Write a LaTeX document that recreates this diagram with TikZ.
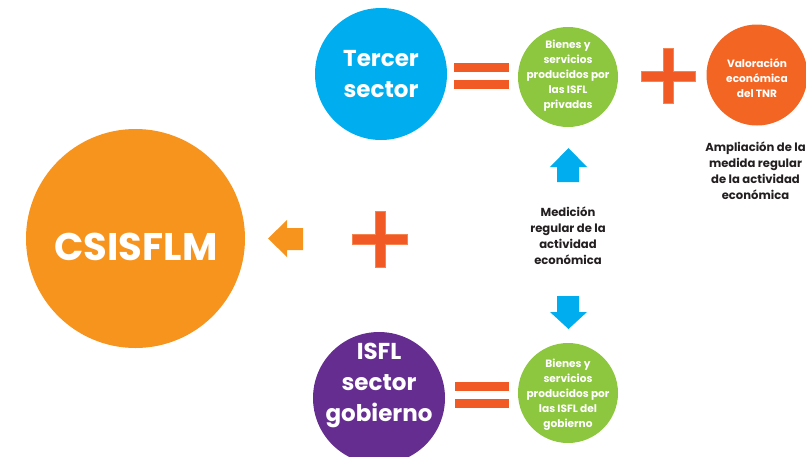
\documentclass[tikz,border=0pt]{standalone}
\usepackage{fontspec}
\setmainfont{Poppins}
\definecolor{cblue}{HTML}{00AEEF}
\definecolor{cgreen}{HTML}{8DC63F}
\definecolor{ctnr}{HTML}{F26522}
\definecolor{corange}{HTML}{F7941E}
\definecolor{cpurple}{HTML}{662D91}
\definecolor{csign}{HTML}{F15A24}
\definecolor{ctext}{HTML}{231F20}
\begin{document}
\begin{tikzpicture}[x=1pt,y=-1pt,
  circ/.style={circle,inner sep=0pt,draw=none},
  wtext/.style={text=white,align=center,inner sep=0pt},
  bigtext/.style={wtext,font=\fontsize{23}{31}\selectfont\bfseries},
  smalltext/.style={wtext,font=\fontsize{10.6}{15}\selectfont\bfseries},
  darktext/.style={text=ctext,align=center,inner sep=0pt,font=\fontsize{11.6}{16}\selectfont\bfseries},
  signbar/.style={fill=csign,draw=ctnr!80!white,line width=0.6pt},
  bluearrow/.style={fill=cblue},
]
\clip (0,0) rectangle (806,456);
\useasboundingbox (0,0) rectangle (806,456);

% circles
\node[circ,fill=cblue,minimum size=132pt] (tercer) at (381,74) {};
\node[circ,fill=cgreen,minimum size=100pt] (bientop) at (568,77) {};
\node[circ,fill=ctnr,minimum size=101pt] (tnr) at (757,75) {};
\node[circ,fill=corange,minimum size=219pt] (csi) at (135.5,238.5) {};
\node[circ,fill=cpurple,minimum size=132pt] (isfl) at (379,398) {};
\node[circ,fill=cgreen,minimum size=100pt] (bienbot) at (568,393) {};

% texts
\node[bigtext] (tercert) at (tercer) {Tercer\\sector};
\node[smalltext] (bientopt) at (568,76) {Bienes y\\servicios\\producidos por\\las ISFL\\privadas};
\node[smalltext] (tnrt) at (757,78) {Valoración\\económica\\del TNR};
\node[wtext,font=\fontsize{38.5}{40}\selectfont\bfseries] (csit) at (136,247) {CSISFLM};
\node[bigtext] (isflt) at (379,385) {ISFL\\sector\\gobierno};
\node[smalltext] (bienbott) at (568,395) {Bienes y\\servicios\\producidos por\\las ISFL del\\gobierno};
\node[darktext] (ampl) at (755.5,171) {Ampliación de la\\medida regular\\de la actividad\\económica};
\node[darktext] (medi) at (568,236) {Medición\\regular de la\\actividad\\económica};

% equals signs
\fill[csign] (454,63) rectangle (509,72);
\fill[csign] (454,80) rectangle (509,89);
\fill[csign] (455,382) rectangle (509,391);
\fill[csign] (455,399) rectangle (509,408);

% plus signs
\path[signbar] (641,71) rectangle (695,81);
\path[signbar] (663,48) rectangle (673,103);
\path[signbar] (352,234) rectangle (407,244);
\path[signbar] (375,211) rectangle (385,267);
\fill[csign] (641.5,71.5) rectangle (694.5,80.5);
\fill[csign] (352.5,234.5) rectangle (406.5,243.5);

% orange arrow
\fill[corange] (268,238.5) -- (287,220) -- (287,228) -- (303,228) -- (303,250) -- (287,250) -- (287,257) -- cycle;

% blue arrows
\fill[bluearrow] (568.5,148) -- (587,167) -- (579,167) -- (579,182) -- (557,182) -- (557,167) -- (550,167) -- cycle;
\fill[bluearrow] (557,296) -- (579,296) -- (579,312) -- (587,312) -- (568.5,329) -- (550,312) -- (557,312) -- cycle;
\end{tikzpicture}
\end{document}
